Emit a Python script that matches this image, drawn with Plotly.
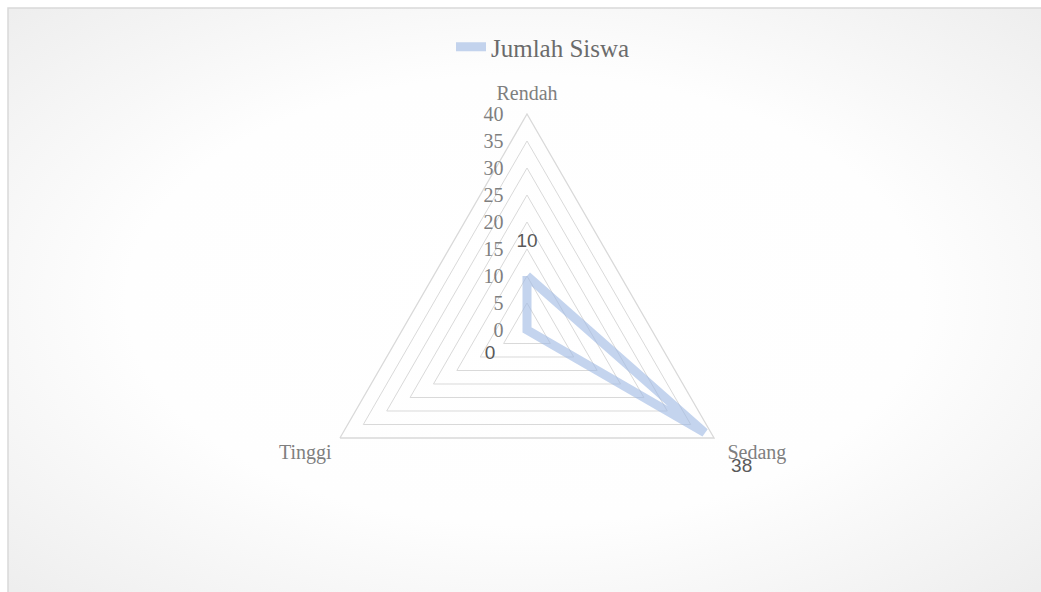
import base64
import plotly.graph_objects as go

categories = ["Rendah", "Sedang", "Tinggi"]
values = [10, 38, 0]
series_name = "Jumlah Siswa"
radial_ticks = [0, 5, 10, 15, 20, 25, 30, 35, 40]

W, H = 1041, 592
cx, cy, R = 527, 330, 216

line_color = "rgba(160,186,228,0.62)"
grid_color = "#d9d9d9"
text_gray = "#7f7f7f"

theta = categories + [categories[0]]
r = values + [values[0]]

label_pos = ["top center", "bottom right", "middle left"]
pad_top = "<br><span style='font-size:12px'> </span>"
pad_bot = "<span style='font-size:2px'> </span><br>"
label_text = []
for v, p in zip(values, label_pos):
    if p.startswith("top"):
        label_text.append(f"{v}{pad_top}")
    elif p == "bottom right":
        label_text.append(f"{pad_bot}\u00a0\u00a0\u00a0\u00a0\u00a0{v}")
    else:
        label_text.append(f" <br> <br>{v}\u00a0\u00a0\u00a0\u00a0\u00a0\u00a0")

cat_text = [c if c != "Sedang" else "\u00a0Sedang" for c in categories]

svg = (
    "<svg xmlns='http://www.w3.org/2000/svg' width='1033' height='584'>"
    "<defs><radialGradient id='g' cx='50%' cy='50%' r='70%'>"
    "<stop offset='0' stop-color='#ffffff'/><stop offset='0.55' stop-color='#fefefe'/>"
    "<stop offset='1' stop-color='#eeeeee'/></radialGradient></defs>"
    "<rect width='100%' height='100%' fill='url(#g)'/></svg>"
)
bg_src = "data:image/svg+xml;base64," + base64.b64encode(svg.encode()).decode()

domain = dict(x=[(cx - R) / W, (cx + R) / W], y=[1 - (cy + R) / H, 1 - (cy - R) / H])

fig = go.Figure()
fig.add_trace(go.Scatterpolar(
    r=r, theta=theta, mode="lines", name=series_name,
    line=dict(color=line_color, width=9),
    hoverinfo="skip", subplot="polar",
))
fig.add_trace(go.Scatterpolar(
    r=values, theta=categories, mode="text", text=label_text,
    textposition=label_pos, showlegend=False, cliponaxis=False,
    textfont=dict(family="Liberation Sans, Arial", size=19, color="#595959"),
    hoverinfo="skip", subplot="polar2",
))

fig.update_layout(
    width=W, height=H,
    margin=dict(l=0, r=0, t=0, b=0),
    paper_bgcolor="#ffffff",
    plot_bgcolor="#ffffff",
    showlegend=True,
    legend=dict(
        orientation="h", x=(cx + 16) / W, xanchor="center", y=1 - 47 / H, yanchor="middle",
        font=dict(family="Liberation Serif, Times New Roman", size=25, color="#6b6b6b"),
        bgcolor="rgba(0,0,0,0)",
    ),
    images=[dict(
        source=bg_src, xref="paper", yref="paper", x=8 / W, y=1 - 8 / H,
        sizex=1 - 8 / W, sizey=1 - 8 / H, xanchor="left", yanchor="top",
        sizing="stretch", layer="below",
    )],
    polar=dict(
        domain=domain,
        bgcolor="rgba(0,0,0,0)",
        gridshape="linear",
        radialaxis=dict(
            range=[0, 40], tickvals=radial_ticks, angle=90, tickangle=90,
            side="counterclockwise", showline=False,
            ticks="outside", ticklen=16, tickcolor="rgba(0,0,0,0)",
            gridcolor=grid_color, gridwidth=1.3,
            tickfont=dict(family="Liberation Serif, Times New Roman", size=20, color=text_gray),
        ),
        angularaxis=dict(
            direction="clockwise", rotation=90, showgrid=False,
            categoryorder="array", categoryarray=categories,
            tickvals=categories, ticktext=cat_text,
            showline=True, linecolor=grid_color, linewidth=1.3,
            ticks="outside", ticklen=5, tickcolor="rgba(0,0,0,0)",
            tickfont=dict(family="Liberation Serif, Times New Roman", size=20, color=text_gray),
        ),
    ),
    polar2=dict(
        domain=domain,
        bgcolor="rgba(0,0,0,0)",
        gridshape="circular",
        radialaxis=dict(range=[-0.001, 40], visible=False, showgrid=False),
        angularaxis=dict(
            direction="clockwise", rotation=90, showgrid=False, showline=False,
            showticklabels=False, ticks="",
            categoryorder="array", categoryarray=categories,
        ),
    ),
    shapes=[dict(
        type="rect", xref="paper", yref="paper",
        x0=8 / W, x1=1.02, y0=-0.02, y1=1 - 8 / H,
        line=dict(color="#d9d9d9", width=1.5), fillcolor="rgba(0,0,0,0)", layer="above",
    )],
)

fig.write_html(
    "out.html",
    config={"displayModeBar": False},
    post_script="document.body.style.margin='0';document.body.style.overflow='hidden';",
)
